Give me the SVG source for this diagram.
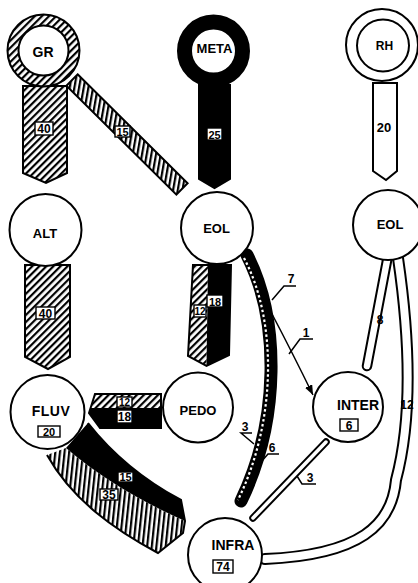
<svg xmlns="http://www.w3.org/2000/svg" width="418" height="583" viewBox="0 0 418 583">
<defs>
<pattern id="h45" patternUnits="userSpaceOnUse" width="5" height="5" patternTransform="rotate(45)"><rect width="5" height="5" fill="#fff"/><rect width="2.2" height="5" fill="#000"/></pattern>
<pattern id="hv" patternUnits="userSpaceOnUse" width="4.6" height="5" patternTransform="rotate(6)"><rect width="4.6" height="5" fill="#fff"/><rect width="2.2" height="5" fill="#000"/></pattern>
<pattern id="h15" patternUnits="userSpaceOnUse" width="4.6" height="5" patternTransform="rotate(10)"><rect width="4.6" height="5" fill="#fff"/><rect width="2.2" height="5" fill="#000"/></pattern>
<marker id="ah" viewBox="0 0 10 8" refX="10" refY="4" markerWidth="10" markerHeight="8" markerUnits="userSpaceOnUse" orient="auto"><path d="M0,0 L10,4 L0,8 Z" fill="#000"/></marker>
</defs>
<style>
.o{fill:#fff;stroke:#000;stroke-width:2}
.ol{fill:none;stroke:#000;stroke-width:2}
.t{font-family:"Liberation Sans",Arial,sans-serif;font-weight:bold;text-anchor:middle;fill:#000}
.box{fill:#fff;stroke:#000;stroke-width:1.4}
.thin{fill:none;stroke:#000;stroke-width:1.5}
.bo{fill:none;stroke:#000}
.bi{fill:none;stroke:#fff}
</style>
<rect width="418" height="583" fill="#fff"/>

<g id="connectors">
  <g id="flow-GR-ALT">
    <path d="M23,86 L67,86 L67,173 L46,183 L23,173 Z" fill="url(#h45)" stroke="#000" stroke-width="2"/>
    <rect class="box" x="35" y="122" width="18" height="13"/><text class="t" x="44" y="133" font-size="12">40</text>
  </g>
  <g id="flow-GR-EOL">
    <path d="M77.6,74.3 L187.6,183.3 L176.4,194.7 L66.4,85.7 Z" fill="url(#h15)" stroke="#000" stroke-width="2"/>
    <rect class="box" x="115" y="126" width="15" height="11"/><text class="t" x="122.5" y="135.5" font-size="11">15</text>
  </g>
  <g id="flow-META-EOL">
    <path d="M199,85 L230,85 L230,179 L214.5,188 L199,179 Z" fill="#000" stroke="#000" stroke-width="2"/>
    <rect class="box" x="207" y="128" width="15" height="12"/><text class="t" x="214.5" y="138.5" font-size="11">25</text>
  </g>
  <g id="flow-RH-EOL">
    <path d="M373,83 L397,83 L397,171 L386,180 L373,171 Z" fill="#fff" stroke="#000" stroke-width="2"/>
    <text class="t" x="384" y="132" font-size="13">20</text>
  </g>
  <g id="flow-ALT-FLUV">
    <path d="M25,265 L70,265 L70,357 L48,369 L25,357 Z" fill="url(#h45)" stroke="#000" stroke-width="2"/>
    <rect class="box" x="36" y="307" width="19" height="12"/><text class="t" x="45.5" y="317.5" font-size="12">40</text>
  </g>
  <g id="flow-EOL-PEDO">
    <path d="M193,265 L208,265 L206.5,366 L188,356 Z" fill="url(#h45)"/>
    <path d="M208,265 L231,265 L229,355 L206.5,366 Z" fill="#000"/>
    <path d="M193,265 L231,265 L229,355 L206.5,366 L188,356 Z" fill="none" stroke="#000" stroke-width="2"/>
    <rect class="box" x="207" y="295" width="16" height="12"/><text class="t" x="215" y="305.5" font-size="11">18</text>
    <rect class="box" x="194" y="305" width="12" height="12"/><text class="t" x="200" y="315" font-size="10">12</text>
  </g>
  <g id="flow-PEDO-FLUV">
    <path d="M95,394 L161,394 L161,408 L90.5,408 Z" fill="url(#h45)"/>
    <path d="M90.5,408 L161,408 L161,428 L100,428 L89,413 Z" fill="#000"/>
    <path d="M95,394 L161,394 L161,428 L100,428 L89,413 Z" fill="none" stroke="#000" stroke-width="2"/>
    <rect class="box" x="117" y="397" width="15" height="10"/><text class="t" x="124.5" y="406" font-size="10">12</text>
    <rect class="box" x="117" y="410" width="15" height="13"/><text class="t" x="124.5" y="421" font-size="12">18</text>
  </g>
  <g id="flow-FLUV-INFRA">
    <path d="M66,448 Q115,490 185,521 L183,533 L158,553 C115,530 72,500 47,455 Z" fill="url(#hv)"/>
    <path d="M88,423 Q125,470 181,500 L185,521 Q115,490 66,448 Z" fill="#000"/>
    <path d="M88,423 Q125,470 181,500 L185,521 L183,533 L158,553 C115,530 72,500 47,455" fill="none" stroke="#000" stroke-width="2"/>
    <rect class="box" x="118" y="472" width="15" height="10"/><text class="t" x="125.5" y="481" font-size="11">15</text>
    <rect class="box" x="100" y="489" width="18" height="11"/><text class="t" x="109" y="498.5" font-size="12">35</text>
  </g>
  <g id="flow-EOL-INFRA">
    <path d="M247,255 C280,320 280,420 241,501" fill="none" stroke="#000" stroke-width="13" stroke-linecap="round"/>
    <path d="M244,258 C277,320 277,420 238,500" fill="none" stroke="#fff" stroke-width="2.2" stroke-dasharray="2.5,2.5" transform="translate(0,0)"/>
  </g>
  <g id="flow-EOL-INTER">
    <path d="M272,314 Q292,352 313,395" class="thin" marker-end="url(#ah)"/>
  </g>
  <g id="flow-INTER-INFRA">
    <path d="M326,442 L253,518" class="bo" stroke-width="7.5" stroke-linecap="round"/>
    <path d="M326,442 L253,518" class="bi" stroke-width="3.5" stroke-linecap="round"/>
  </g>
  <g id="flow-EOL2-INTER">
    <path d="M387.5,258 L367,366" class="bo" stroke-width="10.5" stroke-linecap="round"/>
    <path d="M387.5,258 L367,366" class="bi" stroke-width="6.5" stroke-linecap="round"/>
  </g>
  <g id="flow-EOL2-INFRA">
    <path d="M398,258 C410,340 412,420 396,480 C392,525 360,555 265,559" class="bo" stroke-width="12" stroke-linecap="round"/>
    <path d="M398,258 C410,340 412,420 396,480 C392,525 360,555 265,559" class="bi" stroke-width="8" stroke-linecap="round"/>
  </g>
  <g id="leaders">
    <path class="thin" d="M272,300 L284,286 L296,286"/>
    <text class="t" x="291" y="283" font-size="12">7</text>
    <path class="thin" d="M289,354 L300,339 L313,339"/>
    <text class="t" x="306" y="337" font-size="12">1</text>
    <path class="thin" d="M254,444 L241,433 L252,433"/>
    <text class="t" x="245" y="431" font-size="12">3</text>
    <path class="thin" d="M261,462 L268,454 L279,454"/>
    <text class="t" x="272" y="452" font-size="12">6</text>
    <path class="thin" d="M297,476 L302,484 L316,484"/>
    <text class="t" x="310" y="482" font-size="12">3</text>
    <text class="t" x="380" y="324" font-size="12">8</text>
    <text class="t" x="407" y="409" font-size="12">12</text>
  </g>
</g>

<g id="node-GR">
  <circle cx="43.5" cy="50.5" r="30.5" fill="none" stroke="url(#h45)" stroke-width="11"/>
  <circle class="ol" cx="43.5" cy="50.5" r="36"/>
  <circle class="o" cx="43.5" cy="50.5" r="25"/>
  <text class="t" x="43" y="57" font-size="14">GR</text>
</g>
<g id="node-META">
  <circle cx="213.5" cy="51" r="29.5" fill="none" stroke="#000" stroke-width="14"/>
  <circle class="o" cx="213.5" cy="51" r="22.5"/>
  <text class="t" x="214.5" y="53" font-size="13">META</text>
</g>
<g id="node-RH">
  <circle class="o" cx="382" cy="45" r="36"/>
  <circle class="o" cx="383" cy="45.5" r="26"/>
  <text class="t" x="384.5" y="50" font-size="12">RH</text>
</g>
<g id="node-ALT">
  <circle class="o" cx="45.5" cy="230" r="36"/>
  <text class="t" x="45" y="238" font-size="13">ALT</text>
</g>
<g id="node-EOL">
  <circle class="o" cx="217" cy="228" r="36"/>
  <text class="t" x="216.5" y="233" font-size="13">EOL</text>
</g>
<g id="node-EOL2">
  <circle class="o" cx="388" cy="225" r="35"/>
  <text class="t" x="390" y="229" font-size="13">EOL</text>
</g>
<g id="node-FLUV">
  <circle class="o" cx="47.5" cy="412" r="37"/>
  <text class="t" x="51" y="416" font-size="14" letter-spacing="0.5">FLUV</text>
  <rect class="box" x="38" y="426" width="22" height="11"/><text class="t" x="49" y="435.5" font-size="11">20</text>
</g>
<g id="node-PEDO">
  <circle class="o" cx="198" cy="407.5" r="35"/>
  <text class="t" x="198" y="415" font-size="13">PEDO</text>
</g>
<g id="node-INTER">
  <circle class="o" cx="348" cy="407" r="35"/>
  <text class="t" x="358" y="410" font-size="14">INTER</text>
  <rect class="box" x="340" y="419" width="18" height="12"/><text class="t" x="349" y="429.5" font-size="12">6</text>
</g>
<g id="node-INFRA">
  <circle class="o" cx="225" cy="555" r="37"/>
  <text class="t" x="233" y="550" font-size="14">INFRA</text>
  <rect class="box" x="213" y="560" width="20" height="13"/><text class="t" x="223" y="571" font-size="12">74</text>
</g>
</svg>
